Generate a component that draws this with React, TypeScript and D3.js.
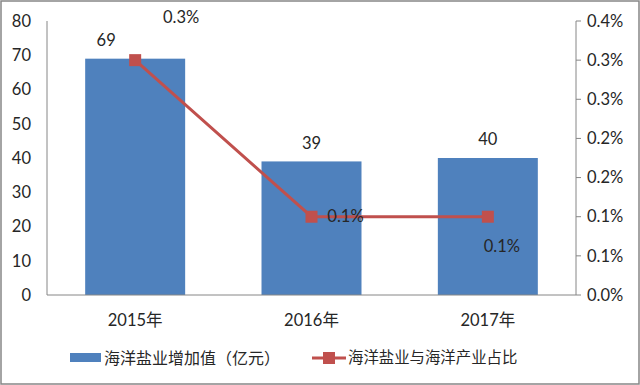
import React from "react";
import * as d3 from "d3";

const categories = ["2015年", "2016年", "2017年"];
const barValues = [69, 39, 40];
const lineValues = [0.3, 0.1, 0.1];
const lineLabels = ["0.3%", "0.1%", "0.1%"];
const leftTicks = [0, 10, 20, 30, 40, 50, 60, 70, 80];
const rightTicks = [0, 0.05, 0.1, 0.15, 0.2, 0.25, 0.3, 0.35];
const rightTickLabels = ["0.0%", "0.1%", "0.1%", "0.2%", "0.2%", "0.3%", "0.3%", "0.4%"];
const legendLabels = ["海洋盐业增加值（亿元）", "海洋盐业与海洋产业占比"];

const W = 640, H = 385;
const left = 47, right = 576, top = 21, bottom = 295;
const font = "Lato, 'Noto Sans CJK SC', sans-serif";
const cjk = "'Noto Sans CJK SC', sans-serif";
const blue = "#4F81BD", red = "#C0504D", axisCol = "#868686";

export default function App() {
  const x = d3.scaleBand<string>().domain(categories).range([left, right]).paddingInner(0.433).paddingOuter(0.2165);
  const yL = d3.scaleLinear().domain([0, 80]).range([bottom, top]);
  const yR = d3.scaleLinear().domain([0, 0.35]).range([bottom, top]);
  const cx = (c: string) => (x(c) as number) + x.bandwidth() / 2;
  const line = d3.line<number>().x((_, i) => cx(categories[i])).y((d) => yR(d));
  const barLabelOff = [[-29, -11], [0, -11], [0, -11]];
  const lineLabelOff = [[46, -43], [34, 0], [14, 30]];
  return (
    <svg width={W} height={H} style={{ position: "absolute", left: 0, top: 0 }}>
      <rect x={0} y={0} width={W} height={H} fill="#fff" />
      <rect x={1} y={1} width={W - 2} height={H - 2} fill="none" stroke={axisCol} strokeWidth={1.5} />
      {categories.map((c, i) => (
        <rect key={c} x={x(c)} y={yL(barValues[i])} width={x.bandwidth()} height={bottom - yL(barValues[i])} fill={blue} />
      ))}
      <line x1={left} x2={left} y1={top} y2={bottom} stroke={axisCol} />
      <line x1={left} x2={right} y1={bottom} y2={bottom} stroke={axisCol} />
      <line x1={right} x2={right} y1={top} y2={bottom} stroke={axisCol} />
      {leftTicks.map((t) => (
        <text key={t} x={31} y={yL(t)} dy="0.35em" textAnchor="end" fontFamily={font} fontSize={16.5} fill="#262626">{t}</text>
      ))}
      {rightTicks.map((t, i) => (
        <g key={i}>
          <line x1={right} x2={right + 5} y1={yR(t)} y2={yR(t)} stroke={axisCol} />
          <text x={587} y={yR(t)} dy="0.35em" fontFamily={font} fontSize={16.5} fill="#262626">{rightTickLabels[i]}</text>
        </g>
      ))}
      {categories.map((c) => (
        <text key={c} x={cx(c)} y={320} dy="0.35em" textAnchor="middle" fontFamily={font} fontSize={16.5} fill="#262626">{c}</text>
      ))}
      {categories.map((c, i) => (
        <text key={c} x={cx(c) + barLabelOff[i][0]} y={yL(barValues[i]) + barLabelOff[i][1]} dy="-0.1em" textAnchor="middle" fontFamily={font} fontSize={16.5} fill="#262626">{barValues[i]}</text>
      ))}
      <path d={line(lineValues) || ""} fill="none" stroke={red} strokeWidth={3} />
      {lineValues.map((v, i) => (
        <rect key={i} x={cx(categories[i]) - 6} y={yR(v) - 6} width={12} height={12} fill={red} />
      ))}
      {lineValues.map((v, i) => (
        <text key={i} x={cx(categories[i]) + lineLabelOff[i][0]} y={yR(v) + lineLabelOff[i][1]} dy="0.35em" textAnchor="middle" fontFamily={font} fontSize={16.5} fill="#262626">{lineLabels[i]}</text>
      ))}
      <rect x={70} y={353} width={31} height={9} fill={blue} />
      <text x={104} y={358} dy="0.35em" fontFamily={cjk} fontSize={16} fill="#262626">{legendLabels[0]}</text>
      <line x1={312} x2={346} y1={358} y2={358} stroke={red} strokeWidth={3} />
      <rect x={323} y={352} width={12} height={12} fill={red} />
      <text x={348} y={358} dy="0.35em" fontFamily={cjk} fontSize={15.4} fill="#262626">{legendLabels[1]}</text>
    </svg>
  );
}
